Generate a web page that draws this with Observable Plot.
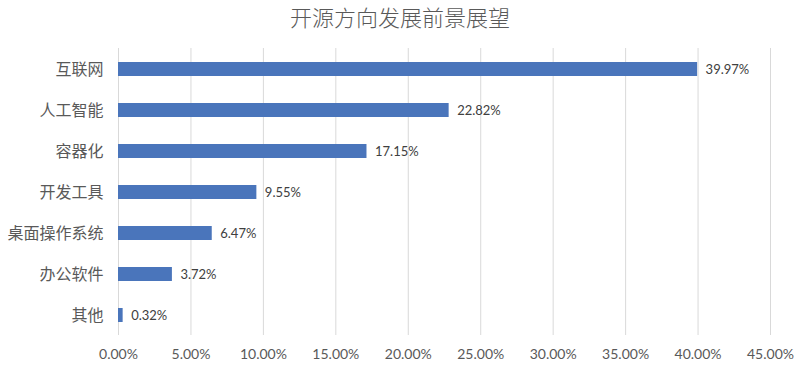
<!DOCTYPE html>
<html><head><meta charset="utf-8">
<script src="https://cdn.jsdelivr.net/npm/d3@7"></script>
<script src="https://cdn.jsdelivr.net/npm/@observablehq/plot@0.6"></script>
<style>
body{margin:0;background:#fff;font-family:"Noto Sans CJK SC",sans-serif;}
#title{height:36px;line-height:32px;text-align:center;font-size:22px;color:#595959;font-family:"Noto Sans CJK SC",sans-serif;font-weight:300;}
</style></head>
<body>
<div id="title">开源方向发展前景展望</div>
<div id="chart"></div>
<script>
const categories = ["互联网","人工智能","容器化","开发工具","桌面操作系统","办公软件","其他"];
const values = [39.97, 22.82, 17.15, 9.55, 6.47, 3.72, 0.32];
const xTicks = [0,5,10,15,20,25,30,35,40,45];

const data = categories.map((c,i)=>({category:c, value:values[i]/100}));
const fmt = d3.format(".2%");

const chart = Plot.plot({
  width: 800,
  height: 332,
  marginTop: 12,
  marginBottom: 33,
  marginLeft: 118,
  marginRight: 30,
  style:{fontFamily:"Lato, 'Noto Sans CJK SC', sans-serif", color:"#595959", background:"#fff"},
  x:{domain:[0,0.45], ticks: xTicks.map(t=>t/100), tickFormat: fmt, label:null},
  y:{domain: categories, label:null, paddingInner:0.66, paddingOuter:0.33},
  marks:[
    Plot.gridX(xTicks.map(t=>t/100), {stroke:"#d9d9d9", strokeOpacity:1}),
    Plot.barX(data, {y:"category", x:"value", fill:"#4a75bb"}),
    Plot.text(data, {y:"category", x:"value", text:d=>fmt(d.value), textAnchor:"start", dx:8, fontSize:13, fill:"#404040"}),
    Plot.axisX({ticks: xTicks.map(t=>t/100), tickFormat: fmt, tickSize:0, tickPadding:14, fontSize:14, fill:"#595959", label:null}),
    Plot.axisY({tickSize:0, tickPadding:15, fontSize:16, fill:"#595959", label:null, fontFamily:"'Noto Sans CJK SC', sans-serif"})
  ]
});
document.getElementById("chart").appendChild(chart);
</script>
</body></html>
